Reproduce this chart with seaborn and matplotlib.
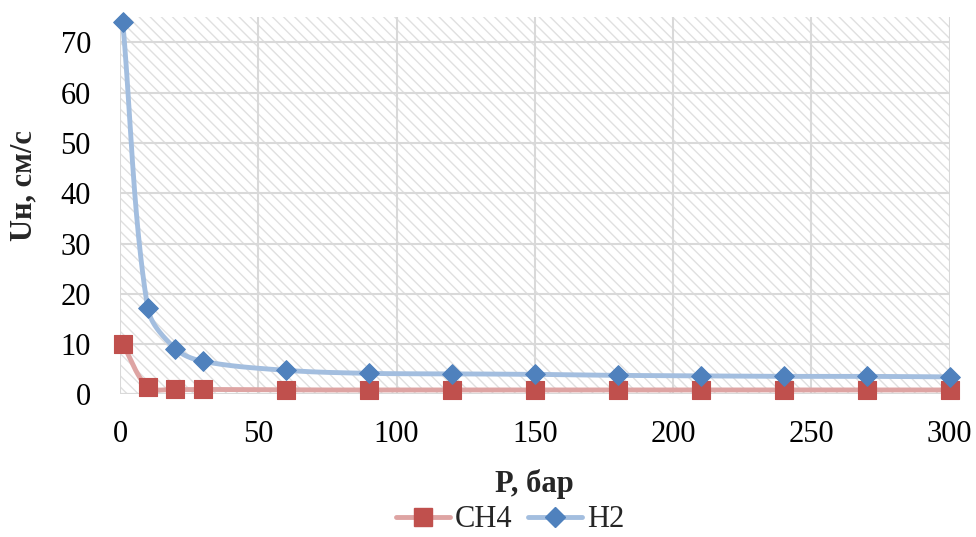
import numpy as np
import pandas as pd
import seaborn as sns
import matplotlib
matplotlib.use("Agg")
import matplotlib.pyplot as plt
from matplotlib.patches import Rectangle
from matplotlib.lines import Line2D

# ---- data ----
pressure = [1, 10, 20, 30, 60, 90, 120, 150, 180, 210, 240, 270, 300]
ch4 = [10.0, 1.5, 1.0, 1.0, 0.9, 0.9, 0.9, 0.9, 0.9, 0.9, 0.9, 0.9, 0.9]
h2 = [74.0, 17.2, 9.1, 6.6, 4.8, 4.2, 4.1, 4.0, 3.8, 3.7, 3.6, 3.6, 3.5]
x_ticks = [0, 50, 100, 150, 200, 250, 300]
y_ticks = [0, 10, 20, 30, 40, 50, 60, 70]
series_names = ["CH4", "H2"]

sns.set_theme(style="white")
plt.rcParams['font.family'] = ['Liberation Serif', 'DejaVu Serif']

df = pd.DataFrame({
    "P": pressure * 2,
    "U": ch4 + h2,
    "gas": [series_names[0]] * len(pressure) + [series_names[1]] * len(pressure),
})

marker_col = {"CH4": "#C0504D", "H2": "#4F81BD"}
line_col = {"CH4": "#DEA4A3", "H2": "#A3BEDF"}
markers = {"CH4": "s", "H2": "D"}
msize = {"CH4": 13.5, "H2": 10.0}
FS = 22

fig = plt.figure(figsize=(9.76, 5.37), dpi=100)
ax = fig.add_axes([0.123, 0.2654, 0.850, 0.7024])
ax.set_xlim(0, 300)
ax.set_ylim(0, 75)


def smooth(xs, ys, ax, n=40):
    """Smoothed path through the points (cubic Bezier, chord-length scaled tangents,
    computed in display space)."""
    P = ax.transData.transform(np.column_stack([xs, ys]).astype(float))
    m = len(P)
    d = np.linalg.norm(np.diff(P, axis=0), axis=1)
    fwd, bwd = [], []
    for i in range(m):
        if i == 0:
            fwd.append(P[0] + (P[1] - P[0]) / 3)
            bwd.append(P[0])
        elif i == m - 1:
            fwd.append(P[i])
            bwd.append(P[i] - (P[i] - P[i - 1]) / 3)
        else:
            T = P[i + 1] - P[i - 1]
            s = d[i - 1] + d[i]
            fwd.append(P[i] + T * d[i] / s / 3)
            bwd.append(P[i] - T * d[i - 1] / s / 3)
    t = np.linspace(0, 1, n)[:, None]
    out = []
    for i in range(m - 1):
        p0, p1, p2, p3 = P[i], fwd[i], bwd[i + 1], P[i + 1]
        out.append((1 - t) ** 3 * p0 + 3 * (1 - t) ** 2 * t * p1
                   + 3 * (1 - t) * t ** 2 * p2 + t ** 3 * p3)
    out = np.vstack(out)
    D = ax.transData.inverted().transform(out)
    return D[:, 0], D[:, 1]


# hatched plot-area background
ax.add_patch(Rectangle((0, 0), 1, 1, transform=ax.transAxes, facecolor="white",
                       edgecolor="#E0E0E0", hatch="\\\\\\", linewidth=0, zorder=0))

for g in series_names:
    sub = df[df.gas == g]
    sx, sy = smooth(sub.P.values, sub.U.values, ax)
    ax.plot(sx, sy, color=line_col[g], lw=3.5, zorder=3, solid_capstyle="round")
    sns.scatterplot(data=sub, x="P", y="U", marker=markers[g], s=msize[g] ** 2,
                    color=marker_col[g], edgecolor=marker_col[g], linewidth=0.8,
                    ax=ax, zorder=4, legend=False, clip_on=False)

ax.set_xlim(0, 300)
ax.set_ylim(0, 75)
ax.set_xticks(x_ticks)
ax.set_yticks(y_ticks)
ax.grid(True, color="#D9D9D9", lw=1.5, zorder=1)
ax.set_axisbelow(True)
for s in ax.spines.values():
    s.set_visible(False)
ax.axhline(0, color="#D9D9D9", lw=1.5, zorder=1)

ax.tick_params(axis="both", length=0, labelsize=FS, colors="black")
ax.tick_params(axis="x", pad=18.5)
ax.tick_params(axis="y", pad=21)
ax.set_xlabel("P, бар", fontsize=FS, fontweight="bold")
ax.set_ylabel("Uн, см/с", fontsize=FS, fontweight="bold")
ax.xaxis.set_label_coords(0.5, -0.197)
ax.yaxis.set_label_coords(-0.099, 0.554)

handles = [Line2D([0], [0], color=line_col[g], lw=3.5, marker=markers[g],
                  markersize=13 if g == "CH4" else 10.5,
                  markerfacecolor=marker_col[g],
                  markeredgecolor=marker_col[g]) for g in series_names]
fig.legend(handles, series_names, loc="center", bbox_to_anchor=(0.5225, 0.032),
           ncol=2, frameon=False, fontsize=FS, handlelength=1.77,
           handletextpad=0.16, columnspacing=0.52, borderpad=0, borderaxespad=0)

fig.savefig("out.png", dpi=100)
